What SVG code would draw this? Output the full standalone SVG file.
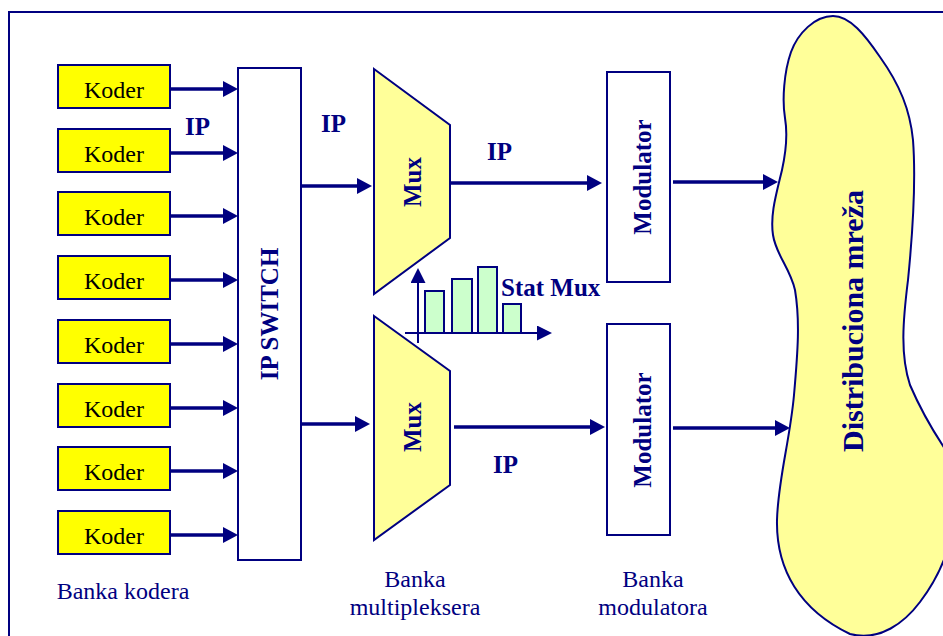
<svg xmlns="http://www.w3.org/2000/svg" width="943" height="636" viewBox="0 0 943 636">
<style>
.nv{stroke:#000080;stroke-width:2}
.koder{fill:#ffff00;stroke:#000080;stroke-width:2}
.box{fill:#ffffff;stroke:#000080;stroke-width:2}
.mux{fill:#ffff99;stroke:#000080;stroke-width:2}
.bar{fill:#ccffcc;stroke:#000080;stroke-width:2}
.kt{font-family:"Liberation Serif",serif;font-size:24px;fill:#000000;text-anchor:middle}
.bt{font-family:"Liberation Serif",serif;font-size:25px;font-weight:bold;fill:#000080}
.btm{font-family:"Liberation Serif",serif;font-size:25px;font-weight:bold;fill:#000080;text-anchor:middle}
.lt{font-family:"Liberation Serif",serif;font-size:24px;fill:#000080;text-anchor:middle}
.arr{stroke:#000080;stroke-width:3.5;fill:none;marker-end:url(#ah)}
.ax{stroke:#000080;stroke-width:2;fill:none;marker-end:url(#as)}
</style>
<defs>
<marker id="ah" markerUnits="userSpaceOnUse" markerWidth="16" markerHeight="16" refX="11" refY="8" orient="auto">
<path d="M0,0 L15,8 L0,16 z" fill="#000080"/>
</marker>
<marker id="as" markerUnits="userSpaceOnUse" markerWidth="16" markerHeight="16" refX="12" refY="7.5" orient="auto">
<path d="M0,0 L15,7.5 L0,15 z" fill="#000080"/>
</marker>
</defs>
<rect x="9" y="12" width="1000" height="700" fill="#ffffff" stroke="#000080" stroke-width="2"/>

<g id="cloud">
<path d="M833,16 C815,16 798,33 791,52 C784,72 782,100 785,118 C788,136 786,152 782,170 C776,195 770,215 773,235 C776,255 790,268 795,290 C800,320 798,350 794,395 C790,440 778,480 777,520 C776,570 800,610 850,634 C880,642 905,622 920,602 C935,582 945,562 950,540 L960,470 C945,450 925,420 910,385 C900,355 903,320 908,280 C913,230 916,180 913,140 C910,110 900,85 880,57 C865,35 850,16 833,16 Z" fill="#ffff99" stroke="#000080" stroke-width="2"/>
<text class="btm" style="font-size:30px" transform="translate(853,321) rotate(-90)" x="0" y="10">Distribuciona mreža</text>
</g>

<g id="koder1"><rect class="koder" x="58" y="65" width="112" height="43"/><text class="kt" x="114" y="98">Koder</text></g>
<g id="koder2"><rect class="koder" x="58" y="129" width="112" height="43"/><text class="kt" x="114" y="162">Koder</text></g>
<g id="koder3"><rect class="koder" x="58" y="192" width="112" height="43"/><text class="kt" x="114" y="225">Koder</text></g>
<g id="koder4"><rect class="koder" x="58" y="256" width="112" height="43"/><text class="kt" x="114" y="289">Koder</text></g>
<g id="koder5"><rect class="koder" x="58" y="320" width="112" height="43"/><text class="kt" x="114" y="353">Koder</text></g>
<g id="koder6"><rect class="koder" x="58" y="384" width="112" height="43"/><text class="kt" x="114" y="417">Koder</text></g>
<g id="koder7"><rect class="koder" x="58" y="447" width="112" height="43"/><text class="kt" x="114" y="480">Koder</text></g>
<g id="koder8"><rect class="koder" x="58" y="511" width="112" height="43"/><text class="kt" x="114" y="544">Koder</text></g>

<g id="ipswitch"><rect class="box" x="238" y="68" width="63" height="492"/><text class="btm" transform="translate(269.5,314) rotate(-90)" x="0" y="8">IP SWITCH</text></g>

<g id="mux1"><polygon class="mux" points="374,69 450,125 450,238 374,294"/><text class="btm" transform="translate(412.5,182) rotate(-90)" x="0" y="8">Mux</text></g>
<g id="mux2"><polygon class="mux" points="374,316 450,371 450,485 374,540"/><text class="btm" transform="translate(412.5,427) rotate(-90)" x="0" y="8">Mux</text></g>

<g id="statmux">
<rect class="bar" x="425" y="291" width="19" height="42"/>
<rect class="bar" x="452" y="279" width="20" height="54"/>
<rect class="bar" x="478" y="267" width="19" height="66"/>
<rect class="bar" x="503" y="304" width="18" height="29"/>
<line class="ax" x1="418" y1="343" x2="418" y2="271"/>
<line class="ax" x1="405" y1="333" x2="549" y2="333"/>
<text class="bt" x="501" y="296">Stat Mux</text>
</g>

<g id="mod1"><rect class="box" x="607" y="72" width="63" height="210"/><text class="btm" transform="translate(643,177) rotate(-90)" x="0" y="8">Modulator</text></g>
<g id="mod2"><rect class="box" x="607" y="324" width="63" height="211"/><text class="btm" transform="translate(643,430) rotate(-90)" x="0" y="8">Modulator</text></g>

<g id="connectors">
<line class="arr" x1="170" y1="89" x2="234" y2="89"/>
<line class="arr" x1="170" y1="153" x2="234" y2="153"/>
<line class="arr" x1="170" y1="216" x2="234" y2="216"/>
<line class="arr" x1="170" y1="280" x2="234" y2="280"/>
<line class="arr" x1="170" y1="344" x2="234" y2="344"/>
<line class="arr" x1="170" y1="408" x2="234" y2="408"/>
<line class="arr" x1="170" y1="471" x2="234" y2="471"/>
<line class="arr" x1="170" y1="535" x2="234" y2="535"/>
<line class="arr" x1="301" y1="186" x2="368" y2="186"/>
<line class="arr" x1="301" y1="424" x2="366" y2="424"/>
<line class="arr" x1="450" y1="183" x2="598" y2="183"/>
<line class="arr" x1="454" y1="427" x2="601" y2="427"/>
<line class="arr" x1="673" y1="182" x2="774" y2="182"/>
<line class="arr" x1="673" y1="428" x2="786" y2="428"/>
</g>

<g id="labels">
<text class="bt" x="185" y="135">IP</text>
<text class="bt" x="321" y="132">IP</text>
<text class="bt" x="487" y="160">IP</text>
<text class="bt" x="493" y="473">IP</text>
<text class="lt" x="123" y="599">Banka kodera</text>
<text class="lt" x="415" y="587">Banka</text>
<text class="lt" x="415" y="615">multipleksera</text>
<text class="lt" x="653" y="587">Banka</text>
<text class="lt" x="653" y="615">modulatora</text>
</g>
</svg>
